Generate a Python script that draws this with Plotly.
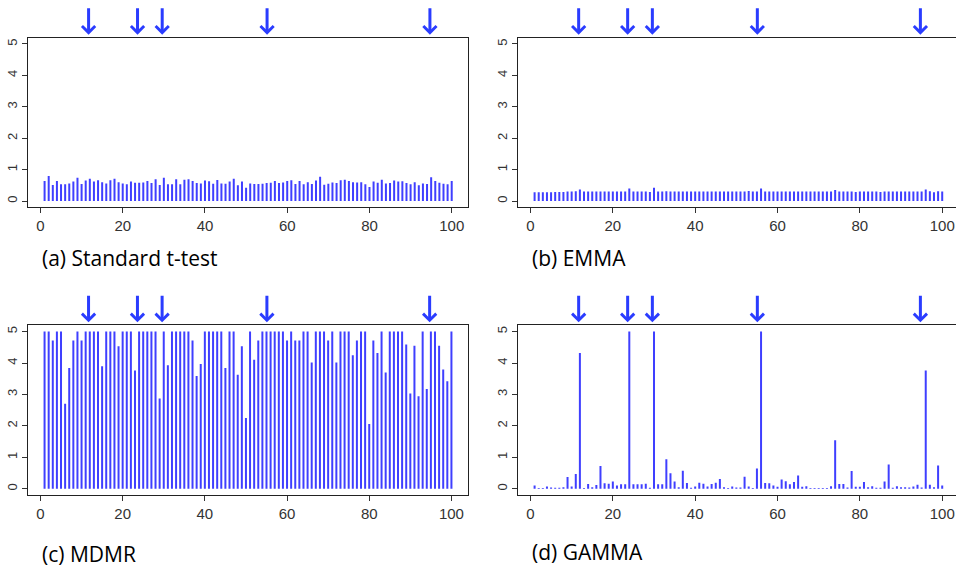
import plotly.graph_objects as go

positions = list(range(1, 101))

ttest = [0.64, 0.80, 0.51, 0.64, 0.53, 0.53, 0.56, 0.62, 0.74, 0.54,
         0.65, 0.71, 0.62, 0.66, 0.60, 0.56, 0.66, 0.71, 0.60, 0.56,
         0.53, 0.62, 0.58, 0.58, 0.59, 0.64, 0.57, 0.69, 0.51, 0.74,
         0.53, 0.53, 0.69, 0.53, 0.68, 0.69, 0.64, 0.57, 0.56, 0.65,
         0.63, 0.55, 0.67, 0.56, 0.55, 0.62, 0.71, 0.50, 0.62, 0.42,
         0.56, 0.54, 0.54, 0.55, 0.57, 0.58, 0.64, 0.57, 0.59, 0.64,
         0.66, 0.54, 0.64, 0.53, 0.60, 0.54, 0.65, 0.77, 0.52, 0.55,
         0.59, 0.57, 0.66, 0.68, 0.64, 0.60, 0.59, 0.60, 0.53, 0.45,
         0.62, 0.58, 0.68, 0.56, 0.57, 0.65, 0.62, 0.63, 0.57, 0.53,
         0.60, 0.50, 0.56, 0.54, 0.76, 0.64, 0.58, 0.55, 0.53, 0.64]

emma = [0.28, 0.28, 0.28, 0.28, 0.28, 0.29, 0.29, 0.29, 0.30, 0.30,
        0.31, 0.37, 0.30, 0.30, 0.30, 0.30, 0.30, 0.30, 0.30, 0.30,
        0.30, 0.30, 0.30, 0.40, 0.30, 0.30, 0.30, 0.30, 0.29, 0.42,
        0.30, 0.30, 0.31, 0.30, 0.30, 0.30, 0.30, 0.30, 0.30, 0.30,
        0.30, 0.30, 0.30, 0.30, 0.30, 0.30, 0.30, 0.30, 0.30, 0.30,
        0.30, 0.30, 0.32, 0.30, 0.30, 0.40, 0.30, 0.30, 0.30, 0.30,
        0.30, 0.30, 0.30, 0.30, 0.30, 0.30, 0.30, 0.30, 0.30, 0.30,
        0.30, 0.30, 0.30, 0.35, 0.30, 0.30, 0.30, 0.30, 0.29, 0.30,
        0.30, 0.30, 0.30, 0.30, 0.29, 0.30, 0.30, 0.30, 0.30, 0.30,
        0.30, 0.30, 0.30, 0.30, 0.30, 0.37, 0.31, 0.28, 0.31, 0.30]

mdmr = [5.00, 5.00, 4.72, 5.00, 5.00, 2.70, 3.84, 4.72, 5.00, 4.72,
        5.00, 5.00, 5.00, 5.00, 3.90, 5.00, 5.00, 5.00, 4.53, 5.00,
        5.00, 5.00, 3.76, 5.00, 5.00, 5.00, 5.00, 5.00, 2.87, 5.00,
        3.93, 5.00, 5.00, 5.00, 5.00, 5.00, 4.72, 3.59, 3.97, 5.00,
        5.00, 5.00, 5.00, 5.00, 3.84, 5.00, 5.00, 3.63, 4.53, 2.25,
        5.00, 4.10, 4.72, 5.00, 5.00, 5.00, 5.00, 5.00, 5.00, 4.72,
        5.00, 4.72, 4.72, 5.00, 5.00, 4.02, 5.00, 5.00, 5.00, 4.72,
        5.00, 4.02, 5.00, 5.00, 5.00, 4.25, 4.72, 5.00, 5.00, 2.06,
        4.72, 4.32, 5.00, 3.70, 5.00, 5.00, 5.00, 5.00, 4.59, 3.03,
        4.55, 2.94, 5.00, 3.17, 5.00, 5.00, 4.55, 3.79, 3.42, 5.00]

gamma = [0.10, 0.02, 0.02, 0.07, 0.04, 0.03, 0.03, 0.05, 0.37, 0.07,
         0.47, 4.32, 0.02, 0.15, 0.05, 0.12, 0.72, 0.17, 0.16, 0.23,
         0.10, 0.14, 0.14, 5.00, 0.14, 0.14, 0.14, 0.16, 0.03, 5.00,
         0.14, 0.14, 0.94, 0.49, 0.23, 0.05, 0.57, 0.18, 0.03, 0.07,
         0.19, 0.16, 0.07, 0.15, 0.19, 0.31, 0.05, 0.02, 0.07, 0.04,
         0.04, 0.38, 0.07, 0.02, 0.64, 5.00, 0.18, 0.17, 0.10, 0.06,
         0.29, 0.24, 0.14, 0.21, 0.42, 0.06, 0.08, 0.02, 0.02, 0.02,
         0.02, 0.02, 0.08, 1.54, 0.15, 0.15, 0.04, 0.56, 0.06, 0.06,
         0.21, 0.05, 0.08, 0.03, 0.03, 0.23, 0.77, 0.03, 0.08, 0.05,
         0.05, 0.04, 0.07, 0.13, 0.04, 3.76, 0.13, 0.05, 0.74, 0.10]

arrow_x = [11.7, 23.6, 29.6, 55.1, 94.7]

captions = ["(a) Standard t-test", "(b) EMMA", "(c) MDMR", "(d) GAMMA"]
x_ticks = [0, 20, 40, 60, 80, 100]
y_ticks = [0, 1, 2, 3, 4, 5]

W, H = 956, 570
BAR_COLOR = "#3F3FFF"
ARROW_COLOR = "#2A3CFF"

# panel frames in pixels: (left, right, top, bottom, x range right end)
panels = [
    (28.3, 468.0, 37.7, 207.3, 103.96),
    (518.3, 956.0, 37.7, 207.3, 103.35),
    (28.3, 467.7, 325.3, 495.0, 103.96),
    (518.3, 956.0, 325.3, 495.0, 103.35),
]
series = [ttest, emma, mdmr, gamma]
caption_pos = [(40, 258), (530, 258), (40, 554), (530, 552)]

fig = go.Figure()
layout = dict(
    width=W, height=H, margin=dict(l=0, r=0, t=0, b=0),
    paper_bgcolor="white", plot_bgcolor="white", showlegend=False,
    annotations=[],
)

for k, (l, r, t, b, xr) in enumerate(panels):
    sfx = "" if k == 0 else str(k + 1)
    # type="h" style vertical lines: one segment per position from 0 to value
    xs, ys = [], []
    for p, v in zip(positions, series[k]):
        xs += [p, p, None]
        ys += [0, v, None]
    fig.add_trace(go.Scatter(
        x=xs, y=ys, mode="lines",
        line=dict(color=BAR_COLOR, width=2),
        xaxis="x" + sfx, yaxis="y" + sfx, hoverinfo="skip",
    ))
    layout["xaxis" + sfx] = dict(
        domain=[l / W, r / W], range=[-2.96, xr], anchor="y" + sfx,
        tickvals=x_ticks, ticks="outside", ticklen=5, tickwidth=1,
        tickcolor="#333", showline=True, mirror=True, linecolor="#222",
        linewidth=1, showgrid=False, zeroline=False,
        tickfont=dict(family="Liberation Sans, Arial", size=15, color="#333"),
    )
    layout["yaxis" + sfx] = dict(
        domain=[1 - b / H, 1 - t / H], range=[-0.2, 5.2], anchor="x" + sfx,
        tickvals=y_ticks, ticks="outside", ticklen=5, tickwidth=1,
        tickcolor="#333", showline=True, mirror=True, linecolor="#222",
        linewidth=1, showgrid=False, zeroline=False, tickangle=-90,
        tickfont=dict(family="Liberation Sans, Arial", size=13, color="#333"),
    )
    for ax_val in arrow_x:
        layout["annotations"].append(dict(
            x=ax_val, y=1, xref="x" + sfx, yref="y" + sfx + " domain",
            text="", showarrow=True, ax=0, ay=-31, axref="pixel", ayref="pixel",
            arrowhead=4, arrowwidth=3, arrowsize=0.85, arrowcolor=ARROW_COLOR,
            standoff=3,
        ))
    cx, cy = caption_pos[k]
    layout["annotations"].append(dict(
        x=cx / W, y=1 - cy / H, xref="paper", yref="paper",
        xanchor="left", yanchor="middle", showarrow=False,
        text=captions[k], font=dict(family="Open Sans", size=21, color="black"),
    ))

fig.update_layout(**layout)
fig.write_html("out.html")
